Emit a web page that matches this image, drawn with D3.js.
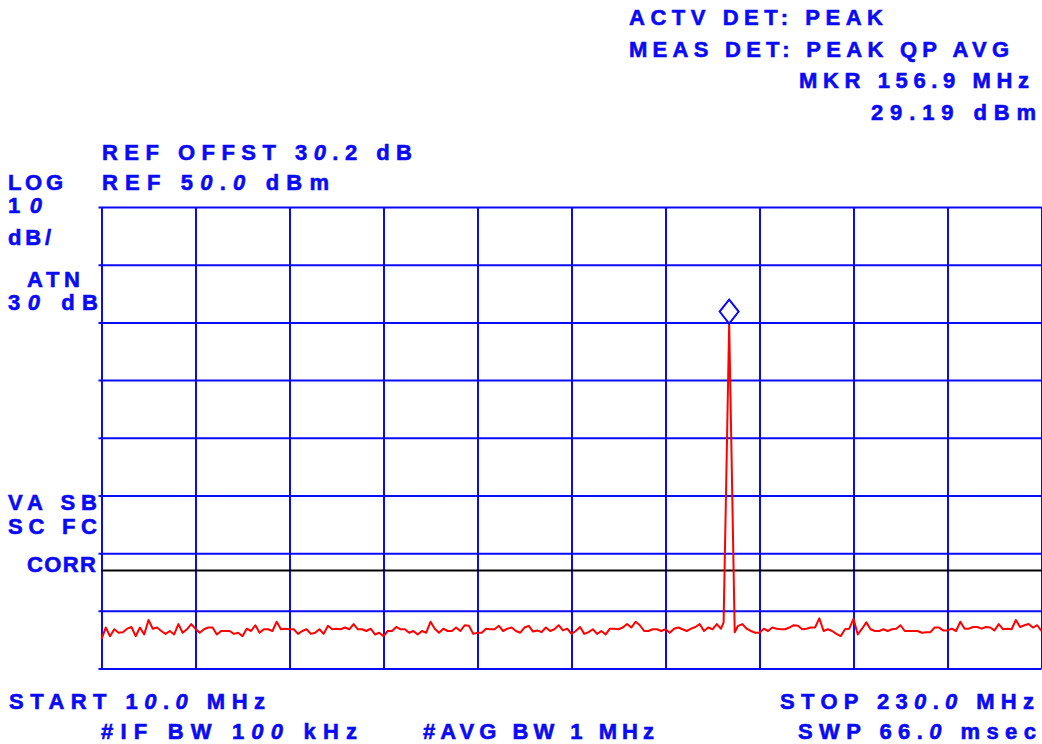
<!DOCTYPE html>
<html><head><meta charset="utf-8">
<script src="https://cdn.jsdelivr.net/npm/d3@7"></script>
<style>
html,body{margin:0;padding:0;background:#fff;}
svg{display:block;font-family:"Liberation Sans",Arial,sans-serif;font-weight:bold;}
</style></head><body><svg id="c" width="1042" height="744"></svg>
<script>
// ---- data ----
const startFreq = 10, stopFreq = 230;          // MHz
const refLevel = 50, dbPerDiv = 10, yDivs = 8; // dBm
const xDivs = 10;
const displayLine = -13;                        // dBm
const markerFreq = 156.9, markerLevel = 29.19;
const noiseFreqs = d3.range(10, 231);           // 1 MHz sample spacing
const noiseLevels = [
 -24.9,-22.9,-24.4,-23.2,-23.8,-23.7,-23.1,-22.8,-24.4,-22.9,
 -24.1,-21.6,-23.1,-22.9,-23.5,-24.0,-23.5,-24.1,-22.3,-23.8,
 -23.2,-22.3,-23.1,-23.8,-23.2,-22.9,-22.9,-24.1,-23.5,-23.5,
 -23.5,-24.0,-23.8,-24.4,-23.1,-23.5,-22.5,-23.8,-23.2,-23.2,
 -23.5,-21.9,-23.2,-23.1,-23.2,-23.2,-24.0,-23.5,-23.2,-24.0,
 -23.8,-23.2,-24.0,-22.6,-23.2,-23.1,-23.2,-22.9,-23.2,-22.3,
 -23.2,-23.2,-23.5,-23.1,-24.1,-23.8,-24.4,-23.5,-23.5,-22.8,
 -23.2,-23.2,-23.8,-23.5,-24.1,-23.5,-23.8,-21.9,-23.1,-23.8,
 -23.1,-23.5,-23.5,-22.9,-23.5,-22.5,-22.6,-24.0,-23.8,-23.8,
 -23.1,-23.2,-23.2,-22.6,-23.5,-23.1,-22.9,-23.5,-23.8,-22.9,
 -22.6,-23.6,-23.4,-23.7,-22.9,-23.5,-23.2,-22.5,-23.4,-23.1,
 -24.0,-23.5,-22.8,-24.0,-23.7,-23.2,-24.0,-23.5,-24.1,-23.1,
 -23.1,-23.2,-22.9,-22.3,-22.9,-21.9,-22.5,-23.5,-23.5,-23.2,
 -23.2,-23.5,-23.2,-23.8,-23.1,-22.9,-23.2,-23.5,-23.1,-22.8,
 -22.3,-23.5,-22.9,-23.2,-22.3,-23.1,null,null,null,-22.6,
 -22.3,-23.1,-23.5,-23.8,-23.8,-23.1,-23.5,-22.9,-23.1,-23.2,
 -23.2,-22.9,-22.5,-22.6,-23.2,-23.1,-22.9,-22.9,-21.3,-23.5,
 -23.2,-23.5,-24.0,-24.4,-23.2,-23.1,-21.4,-24.1,-23.1,-22.0,
 -23.2,-23.5,-23.5,-23.2,-23.5,-23.2,-23.1,-22.5,-23.5,-23.5,
 -23.5,-23.5,-23.8,-23.7,-23.7,-22.9,-22.9,-23.4,-23.4,-23.1,
 -23.5,-21.9,-23.1,-23.1,-22.8,-22.8,-23.1,-22.8,-22.9,-23.4,
 -22.3,-23.2,-23.1,-23.2,-21.6,-22.8,-22.5,-22.3,-22.9,-22.5,
 -23.5
];
const peakFreqs = [155.6, 156.9, 158.2];
const peakLevels = [-22.0, 29.8, -23.7];

// annotation texts
const topTexts = ["ACTV DET: PEAK", "MEAS DET: PEAK QP AVG", "MKR 156.9 MHz", "29.19 dBm"];
const headTexts = ["REF OFFST 30.2 dB", "REF 50.0 dBm"];
const sideTexts = ["LOG", "10", "dB/", "ATN", "30 dB", "VA SB", "SC FC", "CORR"];
const footTexts = ["START 10.0 MHz", "STOP 230.0 MHz", "#IF BW 100 kHz", "#AVG BW 1 MHz", "SWP 66.0 msec"];

// ---- layout ----
const BLUE = "#0a0af5", RED = "#ff0000";
const L = 101.5, R = 1041.5, T = 207, B = 668.5;
const svg = d3.select("#c");

const x = d3.scaleLinear().domain([startFreq, stopFreq]).range([L, R]);
const yMin = refLevel - dbPerDiv * yDivs;
const y = d3.scaleLinear().domain([yMin, refLevel]).range([B, T]);

// vertical grid via axis
const xTicks = d3.range(xDivs + 1).map(i => startFreq + i * (stopFreq - startFreq) / xDivs);
svg.append("g").attr("transform", `translate(0,${B})`)
  .call(d3.axisBottom(x).tickValues(xTicks).tickSize(-(B - T)).tickSizeOuter(0).tickFormat(""))
  .call(g => g.select(".domain").remove())
  .call(g => g.selectAll("line").attr("stroke", BLUE).attr("stroke-width", 2));

// horizontal grid via axis (with small stub left of the graticule)
const yTicks = d3.range(yDivs + 1).map(i => yMin + i * dbPerDiv);
svg.append("g").attr("transform", `translate(${R},0)`)
  .call(d3.axisRight(y).tickValues(yTicks).tickSize(-(R - L + 3)).tickSizeOuter(0).tickFormat(""))
  .call(g => g.select(".domain").remove())
  .call(g => g.selectAll("line").attr("stroke", BLUE).attr("stroke-width", 2));

// display line
svg.append("line").attr("x1", L).attr("x2", R)
  .attr("y1", y(displayLine)).attr("y2", y(displayLine))
  .attr("stroke", "#000").attr("stroke-width", 2);

// trace
const pts = noiseFreqs.map((f, i) => [f, noiseLevels[i]])
  .filter(d => d[1] !== null)
  .concat(peakFreqs.map((f, i) => [f, peakLevels[i]]))
  .sort((a, b) => a[0] - b[0]);
svg.append("path").datum(pts)
  .attr("fill", "none").attr("stroke", RED).attr("stroke-width", 2)
  .attr("stroke-linejoin", "round")
  .attr("d", d3.line().x(d => x(d[0])).y(d => y(d[1])));

// marker diamond sitting on the trace peak
const pk = pts.reduce((a, b) => b[1] > a[1] ? b : a);
const mx = x(pk[0]), my = y(pk[1]);
svg.append("path")
  .attr("d", `M${mx},${my} L${mx + 9.5},${my - 12} L${mx},${my - 24} L${mx - 9.5},${my - 12} Z`)
  .attr("fill", "#fff").attr("stroke", BLUE).attr("stroke-width", 2);

// text helper: zeros drawn slanted like the instrument font
function label(str, x0, y0, x1) {
  const t = svg.append("text").attr("x", x0).attr("y", y0)
    .attr("fill", BLUE).attr("font-size", 22)
    .attr("stroke", BLUE).attr("stroke-width", 0.6)
    .attr("textLength", x1 - x0).attr("lengthAdjust", "spacing")
    .style("white-space", "pre");
  str.split(/(0+)/).filter(s => s.length).forEach(s => {
    const ts = t.append("tspan").text(s);
    if (/^0+$/.test(s)) ts.attr("font-style", "italic");
  });
}
label(topTexts[0], 629, 25, 883);
label(topTexts[1], 629, 57, 1009);
label(topTexts[2], 799, 88, 1029);
label(topTexts[3], 871, 120, 1036);
label(headTexts[0], 102, 160, 412);
label(headTexts[1], 102, 190, 329);
label(sideTexts[0], 8, 190, 63);
label(sideTexts[1], 8, 213, 42);
label(sideTexts[2], 8, 245, 51);
label(sideTexts[3], 27, 287, 80);
label(sideTexts[4], 8, 310, 98);
label(sideTexts[5], 8, 510, 97);
label(sideTexts[6], 8, 534, 97);
label(sideTexts[7], 27, 572, 96);
label(footTexts[0], 9, 709, 265);
label(footTexts[1], 780, 709, 1034);
label(footTexts[2], 101, 739, 357);
label(footTexts[3], 423, 739, 654);
label(footTexts[4], 798, 739, 1036);
</script></body></html>
